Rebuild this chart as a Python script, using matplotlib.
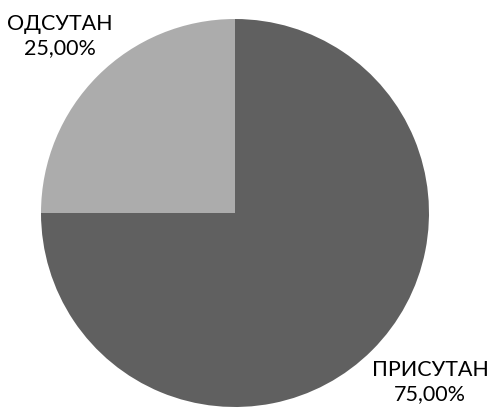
import matplotlib
matplotlib.use("Agg")
import matplotlib.pyplot as plt

categories = ["ПРИСУТАН", "ОДСУТАН"]
values = [75.0, 25.0]
colors = ["#606060", "#acacac"]

W, H = 492, 412
fig = plt.figure(figsize=(W/100, H/100), dpi=100)
cx, cy, r = 235, 213, 194
ax = fig.add_axes([(cx - r)/W, (H - cy - r)/H, 2*r/W, 2*r/H])
ax.pie(values, colors=colors, startangle=90, counterclock=False,
       wedgeprops=dict(linewidth=0))
ax.set_aspect('equal')
ax.set_xlim(-1, 1); ax.set_ylim(-1, 1)
ax.axis('off')

def fmt(v):
    return f"{v:.2f}".replace('.', ',') + "%"

label_pos = [(430, 382), (60, 36)]
for (name, v, (px, py)) in zip(categories, values, label_pos):
    fig.text(px/W, 1 - py/H, f"{name}\n{fmt(v)}", ha='center', va='center',
             fontsize=15.5, family='Lato', color='black', linespacing=1.3)

fig.savefig("out.png", dpi=100)
